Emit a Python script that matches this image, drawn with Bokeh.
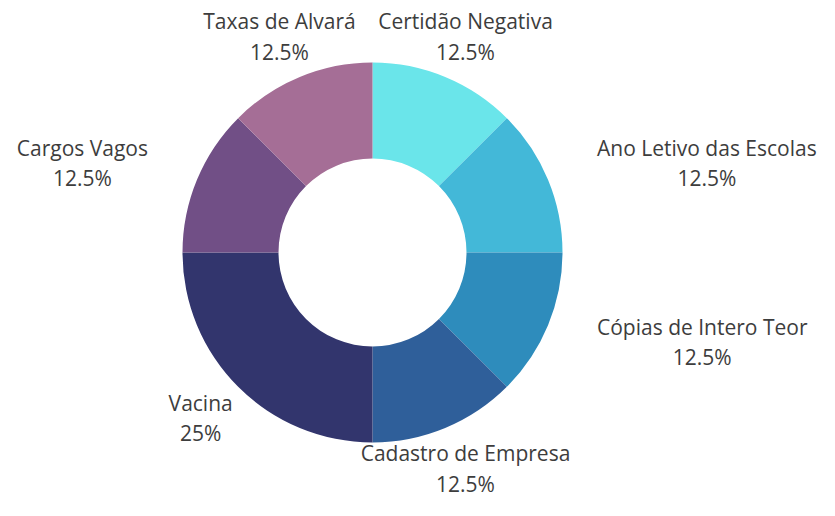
import math
from bokeh.plotting import figure
from bokeh.models import ColumnDataSource
from bokeh.core.properties import value
from bokeh.embed import file_html
from bokeh.resources import INLINE

categories = ["Certidão Negativa", "Ano Letivo das Escolas", "Cópias de Intero Teor",
              "Cadastro de Empresa", "Vacina", "Cargos Vagos", "Taxas de Alvará"]
counts = [1, 1, 1, 1, 2, 1, 1]
colors = ["#6ae5ea", "#43b8d8", "#2e8cbc", "#2f5f9a", "#32356d", "#714f86", "#a56e96"]

CX, CY = 372, 248
R_OUT, R_IN = 190, 94
RX_LAB, RY_LAB = 243, 234

total = sum(counts)
starts, ends, mids = [], [], []
cum = 0
for c in counts:
    a0 = math.pi / 2 - 2 * math.pi * cum / total
    cum += c
    a1 = math.pi / 2 - 2 * math.pi * cum / total
    starts.append(a1)
    ends.append(a0)
    mids.append((a0 + a1) / 2)

pcts = [f"{100 * c / total:g}%" for c in counts]
labels = [f"{n}\n{s}" for n, s in zip(categories, pcts)]

lx = [CX + RX_LAB * math.cos(m) for m in mids]
ly = [CY + RY_LAB * math.sin(m) for m in mids]
anchors = []
for m in mids:
    cm = math.cos(m)
    anchors.append("center_left" if cm > 0.8 else ("center_right" if cm < -0.8 else "center"))

src = ColumnDataSource(dict(start=starts, end=ends, color=colors, x=[CX] * len(counts),
                            y=[CY] * len(counts)))
lsrc = ColumnDataSource(dict(x=lx, y=ly, label=labels, anchor=anchors))

p = figure(width=819, height=500, x_range=(0, 819), y_range=(0, 500),
           output_backend="svg", toolbar_location=None, min_border=0)
p.axis.visible = False
p.grid.visible = False
p.outline_line_color = None
p.background_fill_color = "white"
p.border_fill_color = "white"

p.annular_wedge(x="x", y="y", inner_radius=R_IN, outer_radius=R_OUT,
                start_angle="start", end_angle="end", direction="anticlock",
                fill_color="color", line_color=None, source=src)

p.text(x="x", y="y", text="label", anchor="anchor", text_align="center",
       text_baseline="middle", text_line_height=1.1,
       text_font=value("Open Sans"), text_font_size="21px",
       text_color="#3d3d3d", source=lsrc)

open("out.html", "w").write(file_html(p, INLINE))
